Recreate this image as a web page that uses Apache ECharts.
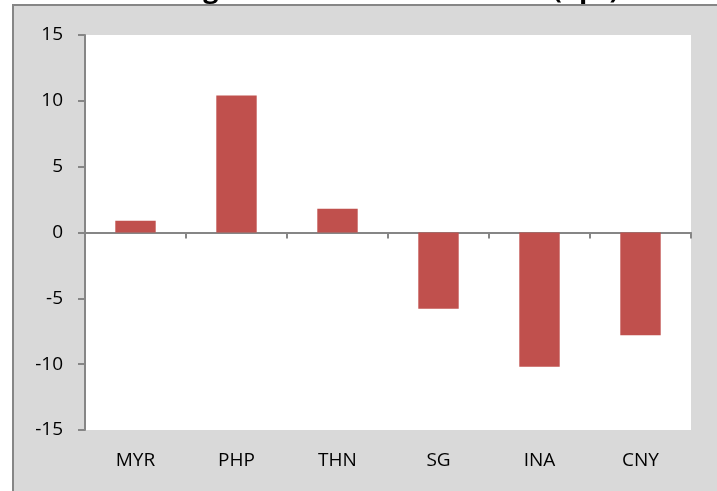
<!DOCTYPE html>
<html style="height: 100%">
<head>
<meta charset="utf-8">
<script src="https://cdn.jsdelivr.net/npm/echarts@6/dist/echarts.min.js"></script>
</head>
<body style="height: 100%; margin: 0; background: #fff">
<div id="container" style="width: 717px; height: 491px"></div>
<script type="text/javascript">
var categories = ['MYR', 'PHP', 'THN', 'SG', 'INA', 'CNY'];
var changes = [0.9, 10.4, 1.8, -5.8, -10.2, -7.8];
var yTicks = { min: -15, max: 15, interval: 5 };

var font = 'Open Sans';
var myChart = echarts.init(document.getElementById('container'), null, { renderer: 'canvas' });

var option = {
    backgroundColor: '#ffffff',
    animation: false,
    graphic: [
        {
            type: 'text', z: -2, left: 62, top: -23,
            style: { text: 'Total change in consensus forecasts (bps)', font: 'bold 27px ' + font, fill: '#000' }
        },
        {
            type: 'rect', z: -1,
            shape: { x: 13, y: 5, width: 720, height: 500 },
            style: { fill: '#d9d9d9', stroke: '#868686', lineWidth: 2 }
        }
    ],
    grid: {
        left: 85, top: 35, right: 26, bottom: 61,
        show: true, backgroundColor: '#ffffff', borderWidth: 0
    },
    xAxis: [
        {
            type: 'category', data: categories, position: 'bottom',
            axisLine: { show: false, onZero: false }, axisTick: { show: false },
            axisLabel: { color: '#000', fontFamily: font, fontSize: 19, margin: 21 }
        },
        {
            type: 'category', data: categories, position: 'bottom',
            axisLine: { onZero: true, lineStyle: { color: '#868686', width: 2 } },
            axisTick: { show: true, inside: false, length: 6, lineStyle: { color: '#868686', width: 2 } },
            axisLabel: { show: false }
        }
    ],
    yAxis: {
        type: 'value', min: yTicks.min, max: yTicks.max, interval: yTicks.interval,
        axisLine: { show: true, onZero: false, lineStyle: { color: '#868686', width: 2 } },
        axisTick: { show: true, length: 7, lineStyle: { color: '#868686', width: 2 } },
        splitLine: { show: false },
        axisLabel: { color: '#000', fontFamily: font, fontSize: 19, margin: 22 }
    },
    series: [{
        type: 'bar', data: changes, barWidth: '40%',
        itemStyle: { color: '#c0504d' }
    }]
};

myChart.setOption(option);
window.onresize = function () { myChart.resize(); };
</script>
</body>
</html>
